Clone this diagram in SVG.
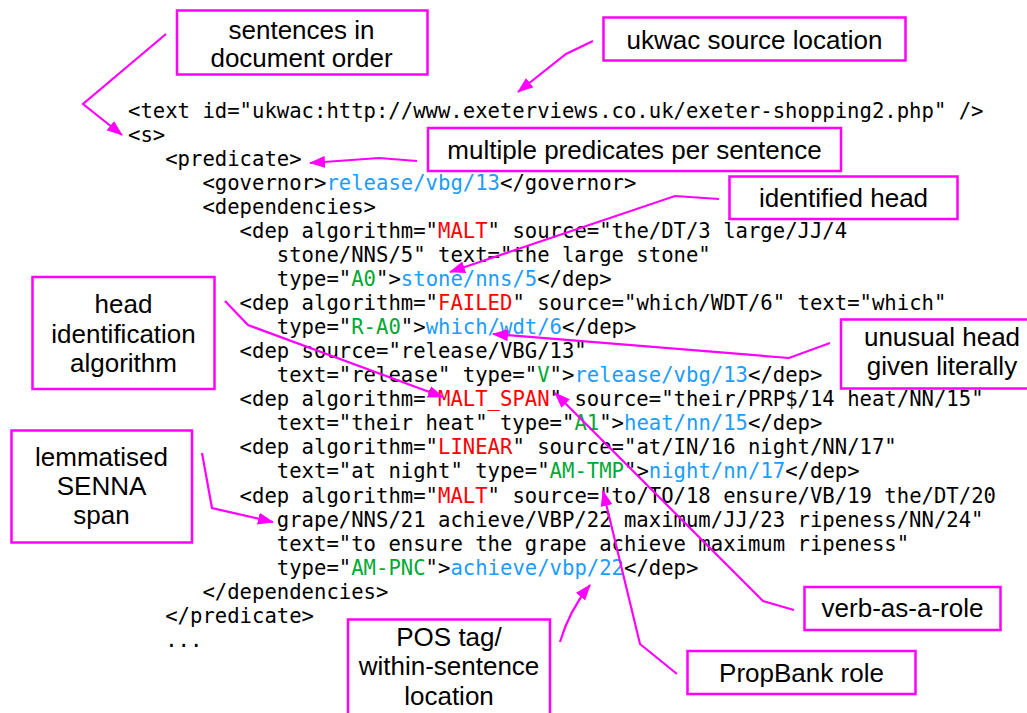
<svg xmlns="http://www.w3.org/2000/svg" width="1027" height="713" viewBox="0 0 1027 713">
<style>
.code{font-family:"DejaVu Sans Mono",monospace;font-size:20.6px;fill:#000}
.r{fill:#ff0000}.g{fill:#00a933}.b{fill:#1b9cff}
.box{fill:#fff;stroke:#ff00ff;stroke-width:2.5}
.lbl{font-family:"Liberation Sans",Arial,sans-serif;font-size:26px;fill:#000;text-anchor:middle}
.con{fill:none;stroke:#ff00ff;stroke-width:2.2;marker-end:url(#ah)}
</style>
<defs>
<marker id="ah" viewBox="0 0 16 12" refX="15" refY="6" markerWidth="16" markerHeight="12" markerUnits="userSpaceOnUse" orient="auto">
<path d="M0,0 L16,6 L0,12 z" fill="#ff00ff"/>
</marker>
</defs>
<rect width="1027" height="713" fill="#fff"/>
<g id="code" class="code">
<text x="128" y="117.7">&lt;text id="ukwac:http://www.exeterviews.co.uk/exeter-shopping2.php" /&gt;</text>
<text x="128" y="141.75">&lt;s&gt;</text>
<text x="165.2" y="165.8">&lt;predicate&gt;</text>
<text x="202.4" y="189.85">&lt;governor&gt;<tspan class="b">release/vbg/13</tspan>&lt;/governor&gt;</text>
<text x="202.4" y="213.9">&lt;dependencies&gt;</text>
<text x="239.6" y="237.95">&lt;dep algorithm="<tspan class="r">MALT</tspan>" source="the/DT/3 large/JJ/4</text>
<text x="276.8" y="262">stone/NNS/5" text="the large stone"</text>
<text x="276.8" y="286.05">type="<tspan class="g">A0</tspan>"&gt;<tspan class="b">stone/nns/5</tspan>&lt;/dep&gt;</text>
<text x="239.6" y="310.1">&lt;dep algorithm="<tspan class="r">FAILED</tspan>" source="which/WDT/6" text="which"</text>
<text x="276.8" y="334.15">type="<tspan class="g">R-A0</tspan>"&gt;<tspan class="b">which/wdt/6</tspan>&lt;/dep&gt;</text>
<text x="239.6" y="358.2">&lt;dep source="release/VBG/13"</text>
<text x="276.8" y="382.25">text="release" type="<tspan class="g">V</tspan>"&gt;<tspan class="b">release/vbg/13</tspan>&lt;/dep&gt;</text>
<text x="239.6" y="406.3">&lt;dep algorithm="<tspan class="r">MALT_SPAN</tspan>" source="their/PRP$/14 heat/NN/15"</text>
<text x="276.8" y="430.35">text="their heat" type="<tspan class="g">A1</tspan>"&gt;<tspan class="b">heat/nn/15</tspan>&lt;/dep&gt;</text>
<text x="239.6" y="454.4">&lt;dep algorithm="<tspan class="r">LINEAR</tspan>" source="at/IN/16 night/NN/17"</text>
<text x="276.8" y="478.45">text="at night" type="<tspan class="g">AM-TMP</tspan>"&gt;<tspan class="b">night/nn/17</tspan>&lt;/dep&gt;</text>
<text x="239.6" y="502.5">&lt;dep algorithm="<tspan class="r">MALT</tspan>" source="to/TO/18 ensure/VB/19 the/DT/20</text>
<text x="276.8" y="526.55">grape/NNS/21 achieve/VBP/22 maximum/JJ/23 ripeness/NN/24"</text>
<text x="276.8" y="550.6">text="to ensure the grape achieve maximum ripeness"</text>
<text x="276.8" y="574.65">type="<tspan class="g">AM-PNC</tspan>"&gt;<tspan class="b">achieve/vbp/22</tspan>&lt;/dep&gt;</text>
<text x="202.4" y="598.7">&lt;/dependencies&gt;</text>
<text x="165.2" y="622.75">&lt;/predicate&gt;</text>
<text x="165.2" y="646.8">...</text>
</g>
<g id="connectors">
<polyline class="con" points="166,34 83,104 122,135"/>
<polyline class="con" points="593,41 566,54 518,92"/>
<polyline class="con" points="417,161 379,158 310,163"/>
<polyline class="con" points="719,199 675,196 450,272"/>
<polyline class="con" points="225,301 248,325 443,397"/>
<polyline class="con" points="830,343 789,358 493,334"/>
<polyline class="con" points="794,610 763,601 555,393"/>
<polyline class="con" points="677,674 640,644 603,491"/>
<polyline class="con" points="202,453 212,508 273,522"/>
<path class="con" d="M560,642 Q569,611 590,585"/>
</g>
<g id="n-sentences"><rect class="box" x="177" y="10.5" width="250.5" height="64"/><text class="lbl" x="301.5" y="38.5">sentences in</text><text class="lbl" x="301.5" y="67">document order</text></g>
<g id="n-ukwac"><rect class="box" x="603.5" y="17.5" width="302" height="43"/><text class="lbl" x="754.5" y="49">ukwac source location</text></g>
<g id="n-multiple"><rect class="box" x="428" y="128" width="413" height="43"/><text class="lbl" x="634.5" y="158.5">multiple predicates per sentence</text></g>
<g id="n-identified"><rect class="box" x="729.5" y="176.5" width="228" height="42.5"/><text class="lbl" x="843.5" y="206.5">identified head</text></g>
<g id="n-algorithm"><rect class="box" x="32.5" y="277" width="182" height="112"/><text class="lbl" x="123.5" y="313">head</text><text class="lbl" x="123.5" y="342.5">identification</text><text class="lbl" x="123.5" y="372">algorithm</text></g>
<g id="n-unusual"><rect class="box" x="841" y="319.5" width="205" height="69"/><text class="lbl" x="942" y="345.5">unusual head</text><text class="lbl" x="942" y="374.5">given literally</text></g>
<g id="n-senna"><rect class="box" x="11.5" y="430.5" width="180.5" height="112"/><text class="lbl" x="101.5" y="465.5">lemmatised</text><text class="lbl" x="101.5" y="495">SENNA</text><text class="lbl" x="101.5" y="524">span</text></g>
<g id="n-pos"><rect class="box" x="348" y="619.5" width="202" height="110"/><text class="lbl" x="449" y="645.5">POS tag/</text><text class="lbl" x="449" y="675">within-sentence</text><text class="lbl" x="449" y="704.5">location</text></g>
<g id="n-verb"><rect class="box" x="804.5" y="587" width="196" height="43"/><text class="lbl" x="902.5" y="617">verb-as-a-role</text></g>
<g id="n-propbank"><rect class="box" x="687.5" y="651" width="228" height="43"/><text class="lbl" x="801.5" y="681.5">PropBank role</text></g>
</svg>
